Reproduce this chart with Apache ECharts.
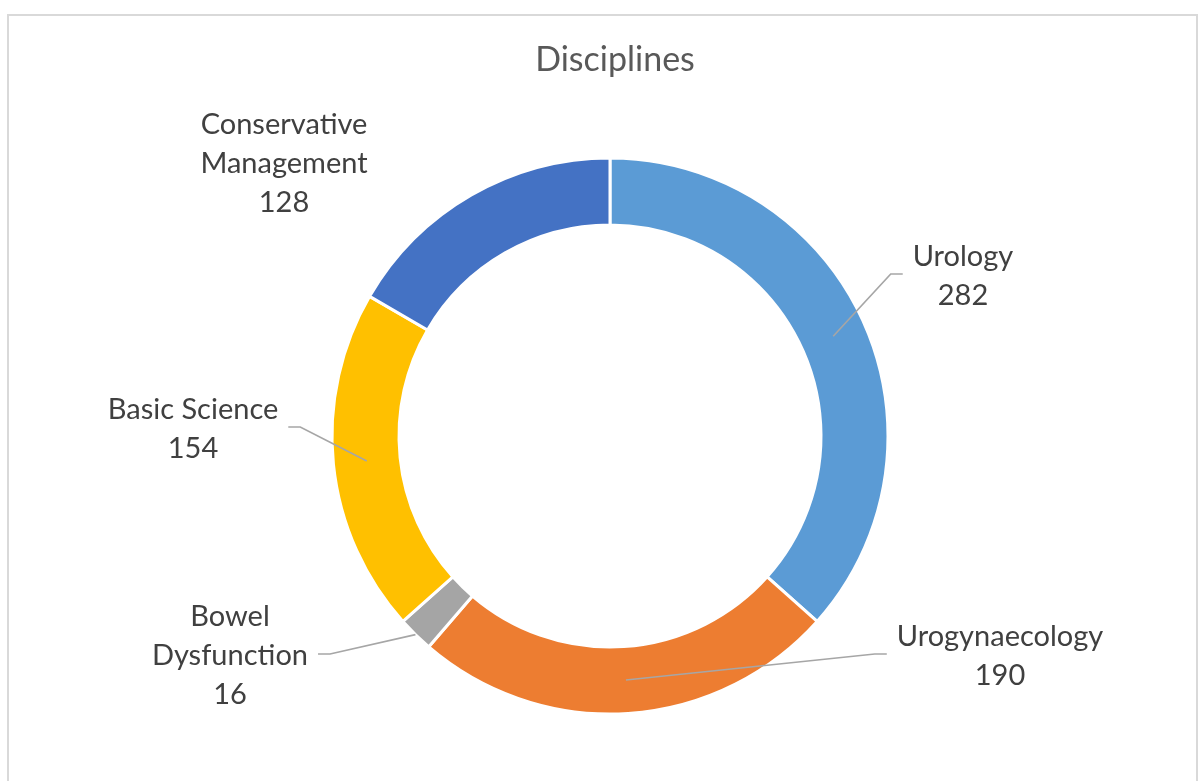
<!DOCTYPE html>
<html>
<head>
<meta charset="utf-8">
<title>Disciplines</title>
<script src="https://cdn.jsdelivr.net/npm/echarts@6/dist/echarts.min.js"></script>
<style>
  html, body { margin: 0; padding: 0; background: #fff; }
  #chart { width: 1198px; height: 781px; }
</style>
</head>
<body>
<div id="chart"></div>
<script>
// data
var categories = ['Urology', 'Urogynaecology', 'Bowel\nDysfunction', 'Basic Science', 'Conservative\nManagement'];
var values = [282, 190, 16, 154, 128];
var colors = ['#5B9BD5', '#ED7D31', '#A5A5A5', '#FFC000', '#4472C4'];

// where each label sits (centre of text block) and which side its leader comes from
var labelPos = [[963, 276], [1000, 656], [230, 656], [193, 429], [284, 164]];
var lineSide = ['left', 'left', 'right', 'right', 'none'];

var cx = 610, cy = 436;
var rOuter = 278, rInner = 211;

var ringData = categories.map(function (name, i) {
    return { name: name, value: values[i], itemStyle: { color: colors[i] } };
});
var labelData = categories.map(function (name, i) {
    return {
        name: name,
        value: values[i],
        labelLine: { show: lineSide[i] !== 'none' }
    };
});

var chart = echarts.init(document.getElementById('chart'));
var option = {
    backgroundColor: '#fff',
    animation: false,
    title: {
        text: 'Disciplines',
        left: cx,
        top: 38,
        textAlign: 'center',
        textStyle: {
            fontFamily: 'Lato',
            fontSize: 34,
            fontWeight: 'normal',
            color: '#595959'
        }
    },
    graphic: [{
        type: 'rect',
        shape: { x: 8, y: 15, width: 1189, height: 800 },
        style: { fill: 'none', stroke: '#d9d9d9', lineWidth: 2 },
        silent: true
    }],
    series: [
        {
            name: 'ring',
            type: 'pie',
            center: [cx, cy],
            radius: [rInner, rOuter],
            startAngle: 90,
            clockwise: true,
            silent: true,
            label: { show: false },
            labelLine: { show: false },
            itemStyle: { borderColor: '#fff', borderWidth: 3 },
            data: ringData
        },
        {
            // invisible pie, only here so leaders start mid-ring
            name: 'labels',
            type: 'pie',
            z: 3,
            center: [cx, cy],
            radius: [0, (rInner + rOuter) / 2],
            startAngle: 90,
            clockwise: true,
            silent: true,
            avoidLabelOverlap: false,
            itemStyle: { color: 'rgba(0,0,0,0)' },
            emphasis: { disabled: true },
            label: {
                show: true,
                formatter: '{b}\n{c}',
                fontFamily: 'Lato',
                fontSize: 29,
                lineHeight: 39,
                color: '#404040',
                align: 'center'
            },
            labelLine: {
                show: true,
                length: 20,
                length2: 12,
                lineStyle: { color: '#a6a6a6', width: 1.7 }
            },
            labelLayout: function (params) {
                var i = params.dataIndex;
                var p = labelPos[i];
                var res = { x: p[0], y: p[1], align: 'center', verticalAlign: 'middle' };
                if (lineSide[i] === 'none') return res;
                var start = params.labelLinePoints ? params.labelLinePoints[0].slice() : [cx, cy];
                if (values[i] < 30) {
                    // thin slice: leader touches outer edge instead
                    var k = rOuter / ((rInner + rOuter) / 2);
                    start = [cx + (start[0] - cx) * k, cy + (start[1] - cy) * k];
                }
                var halfW = params.labelRect.width / 2;
                var endX, bendX;
                if (lineSide[i] === 'left') {
                    endX = p[0] - halfW - 10;
                    bendX = endX - 12;
                } else {
                    endX = p[0] + halfW + 10;
                    bendX = endX + 12;
                }
                res.labelLinePoints = [start, [bendX, p[1] - 2], [endX, p[1] - 2]];
                return res;
            },
            data: labelData
        }
    ]
};
chart.setOption(option);
</script>
</body>
</html>
